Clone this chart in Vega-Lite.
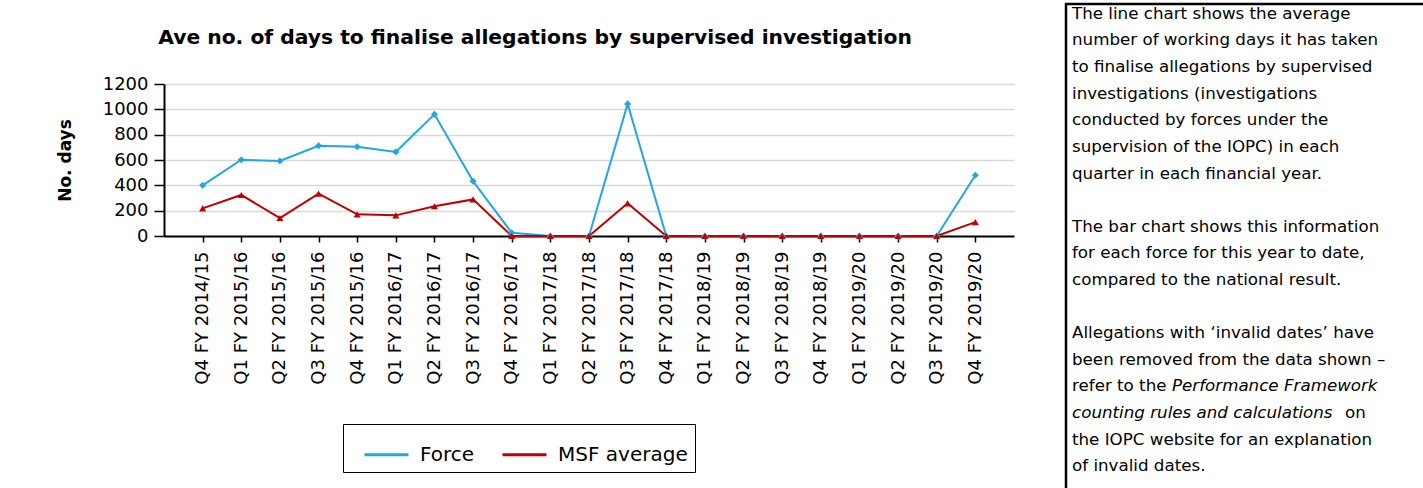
{
  "$schema": "https://vega.github.io/schema/vega-lite/v6.json",
  "background": "white",
  "padding": {"left": 56, "top": 2, "right": 0, "bottom": 0},
  "spacing": 50,
  "config": {"font": "DejaVu Sans"},
  "hconcat": [
    {
      "spacing": 0,
      "vconcat": [
        {
          "width": 850,
          "height": 1,
          "view": {"stroke": null},
          "data": {"values": []},
          "mark": "text"
        },
        {
          "width": 850,
          "height": 152,
          "view": {"stroke": null},
          "title": {
            "text": ["", "Ave no. of days to finalise allegations by supervised investigation"],
            "font": "DejaVu Sans",
            "fontSize": 20.3,
            "fontWeight": "bold",
            "color": "#000000",
            "anchor": "middle",
            "frame": "bounds",
            "lineHeight": 22,
            "offset": 27
          },
          "data": {
            "values": [
              {"quarter": "Q4 FY 2014/15", "series": "Force", "days": 400},
              {"quarter": "Q1 FY 2015/16", "series": "Force", "days": 602},
              {"quarter": "Q2 FY 2015/16", "series": "Force", "days": 592},
              {"quarter": "Q3 FY 2015/16", "series": "Force", "days": 712},
              {"quarter": "Q4 FY 2015/16", "series": "Force", "days": 705},
              {"quarter": "Q1 FY 2016/17", "series": "Force", "days": 664},
              {"quarter": "Q2 FY 2016/17", "series": "Force", "days": 961},
              {"quarter": "Q3 FY 2016/17", "series": "Force", "days": 432},
              {"quarter": "Q4 FY 2016/17", "series": "Force", "days": 25},
              {"quarter": "Q1 FY 2017/18", "series": "Force", "days": 0},
              {"quarter": "Q2 FY 2017/18", "series": "Force", "days": 0},
              {"quarter": "Q3 FY 2017/18", "series": "Force", "days": 1043},
              {"quarter": "Q4 FY 2017/18", "series": "Force", "days": 0},
              {"quarter": "Q1 FY 2018/19", "series": "Force", "days": 0},
              {"quarter": "Q2 FY 2018/19", "series": "Force", "days": 0},
              {"quarter": "Q3 FY 2018/19", "series": "Force", "days": 0},
              {"quarter": "Q4 FY 2018/19", "series": "Force", "days": 0},
              {"quarter": "Q1 FY 2019/20", "series": "Force", "days": 0},
              {"quarter": "Q2 FY 2019/20", "series": "Force", "days": 0},
              {"quarter": "Q3 FY 2019/20", "series": "Force", "days": 0},
              {"quarter": "Q4 FY 2019/20", "series": "Force", "days": 479},
              {"quarter": "Q4 FY 2014/15", "series": "MSF average", "days": 218},
              {"quarter": "Q1 FY 2015/16", "series": "MSF average", "days": 324},
              {"quarter": "Q2 FY 2015/16", "series": "MSF average", "days": 142},
              {"quarter": "Q3 FY 2015/16", "series": "MSF average", "days": 335},
              {"quarter": "Q4 FY 2015/16", "series": "MSF average", "days": 171},
              {"quarter": "Q1 FY 2016/17", "series": "MSF average", "days": 163},
              {"quarter": "Q2 FY 2016/17", "series": "MSF average", "days": 235},
              {"quarter": "Q3 FY 2016/17", "series": "MSF average", "days": 289},
              {"quarter": "Q4 FY 2016/17", "series": "MSF average", "days": 0},
              {"quarter": "Q1 FY 2017/18", "series": "MSF average", "days": 0},
              {"quarter": "Q2 FY 2017/18", "series": "MSF average", "days": 0},
              {"quarter": "Q3 FY 2017/18", "series": "MSF average", "days": 258},
              {"quarter": "Q4 FY 2017/18", "series": "MSF average", "days": 0},
              {"quarter": "Q1 FY 2018/19", "series": "MSF average", "days": 0},
              {"quarter": "Q2 FY 2018/19", "series": "MSF average", "days": 0},
              {"quarter": "Q3 FY 2018/19", "series": "MSF average", "days": 0},
              {"quarter": "Q4 FY 2018/19", "series": "MSF average", "days": 0},
              {"quarter": "Q1 FY 2019/20", "series": "MSF average", "days": 0},
              {"quarter": "Q2 FY 2019/20", "series": "MSF average", "days": 0},
              {"quarter": "Q3 FY 2019/20", "series": "MSF average", "days": 0},
              {"quarter": "Q4 FY 2019/20", "series": "MSF average", "days": 110}
            ]
          },
          "encoding": {
            "x": {
              "field": "quarter",
              "type": "ordinal",
              "sort": null,
              "scale": {"type": "point", "padding": 1},
              "axis": {
                "title": null,
                "labelAngle": -90,
                "labelFont": "DejaVu Sans",
                "labelFontSize": 18,
                "labelColor": "#000000",
                "labelPadding": 9,
                "labelOverlap": false,
                "labelBound": false,
                "tickSize": 6,
                "tickColor": "#000000",
                "tickWidth": 1.5,
                "domainColor": "#000000",
                "domainWidth": 2,
                "grid": false
              }
            },
            "y": {
              "field": "days",
              "type": "quantitative",
              "scale": {"domain": [0, 1200], "nice": false},
              "axis": {
                "title": "No. days",
                "titleFont": "DejaVu Sans",
                "titleFontSize": 17,
                "titleFontWeight": "bold",
                "titleColor": "#000000",
                "titlePadding": 28,
                "values": [0, 200, 400, 600, 800, 1000, 1200],
                "format": "d",
                "labelFont": "DejaVu Sans",
                "labelFontSize": 18,
                "labelColor": "#000000",
                "labelPadding": 6,
                "tickSize": 10,
                "tickColor": "#000000",
                "tickWidth": 1.5,
                "domainColor": "#000000",
                "domainWidth": 2,
                "gridColor": "#D9D9D9",
                "gridWidth": 1.5
              }
            }
          },
          "layer": [
            {
              "mark": {"type": "line", "strokeWidth": 2},
              "encoding": {
                "color": {
                  "field": "series",
                  "type": "nominal",
                  "scale": {"domain": ["Force", "MSF average"], "range": ["#22A7E0", "#C00000"]},
                  "legend": {
                    "orient": "none",
                    "legendX": 179,
                    "legendY": 420,
                    "direction": "horizontal",
                    "title": null,
                    "symbolType": "stroke",
                    "symbolSize": 1936,
                    "symbolStrokeWidth": 3,
                    "symbolOffset": 13,
                    "labelFont": "DejaVu Sans",
                    "labelFontSize": 20,
                    "labelColor": "#000000",
                    "labelOffset": 10,
                    "labelLimit": 300,
                    "columnPadding": 13,
                    "padding": 7,
                    "strokeColor": "#000000"
                  }
                }
              }
            },
            {
              "transform": [{"filter": "datum.series == 'Force'"}],
              "mark": {"type": "point", "shape": "diamond", "filled": true, "opacity": 1, "size": 50, "color": "#22A7E0"}
            },
            {
              "transform": [{"filter": "datum.series == 'MSF average'"}],
              "mark": {"type": "point", "shape": "triangle-up", "filled": true, "opacity": 1, "size": 50, "color": "#C00000"}
            }
          ]
        }
      ]
    },
    {
      "width": 362,
      "height": 490,
      "view": {"stroke": "#000000", "strokeWidth": 2.5},
      "data": {
        "values": [
          {"line": 1, "text": "The line chart shows the average"},
          {"line": 2, "text": "number of working days it has taken"},
          {"line": 3, "text": "to finalise allegations by supervised"},
          {"line": 4, "text": "investigations (investigations"},
          {"line": 5, "text": "conducted by forces under the"},
          {"line": 6, "text": "supervision of the IOPC) in each"},
          {"line": 7, "text": "quarter in each financial year."},
          {"line": 9, "text": "The bar chart shows this information"},
          {"line": 10, "text": "for each force for this year to date,"},
          {"line": 11, "text": "compared to the national result."},
          {"line": 13, "text": "Allegations with ‘invalid dates’ have"},
          {"line": 14, "text": "been removed from the data shown –"},
          {"line": 15, "text": "refer to the"},
          {"line": 15, "text": "Performance Framework"},
          {"line": 16, "text": "counting rules and calculations"},
          {"line": 16, "text": "on"},
          {"line": 17, "text": "the IOPC website for an explanation"},
          {"line": 18, "text": "of invalid dates."}
        ]
      },
      "encoding": {
        "x": {"value": 0},
        "y": {
          "field": "line",
          "type": "quantitative",
          "scale": {"domain": [0.44, 18.86], "reverse": true, "nice": false, "zero": false},
          "axis": null
        },
        "text": {"field": "text"}
      },
      "layer": [
        {
          "transform": [{"filter": "datum.text != 'Performance Framework' && datum.text != 'counting rules and calculations' && datum.text != 'on'"}],
          "mark": {"type": "text", "align": "left", "baseline": "alphabetic", "dx": 6, "font": "DejaVu Sans", "fontSize": 16.7, "color": "#000000"}
        },
        {
          "transform": [{"filter": "datum.text == 'Performance Framework'"}],
          "mark": {"type": "text", "align": "left", "baseline": "alphabetic", "dx": 106, "font": "DejaVu Sans", "fontStyle": "italic", "fontSize": 16.7, "color": "#000000"}
        },
        {
          "transform": [{"filter": "datum.text == 'counting rules and calculations'"}],
          "mark": {"type": "text", "align": "left", "baseline": "alphabetic", "dx": 6, "font": "DejaVu Sans", "fontStyle": "italic", "fontSize": 16.7, "color": "#000000"}
        },
        {
          "transform": [{"filter": "datum.text == 'on'"}],
          "mark": {"type": "text", "align": "left", "baseline": "alphabetic", "dx": 279, "font": "DejaVu Sans", "fontSize": 16.7, "color": "#000000"}
        }
      ]
    }
  ]
}
